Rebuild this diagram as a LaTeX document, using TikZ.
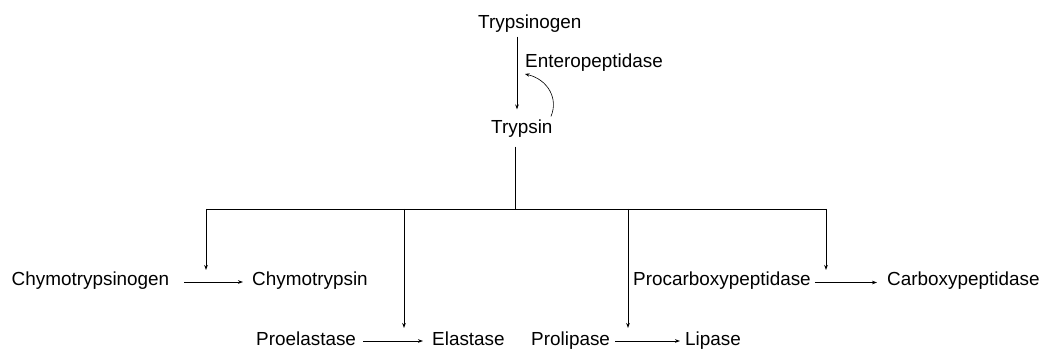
\documentclass[tikz,border=0pt]{standalone}
\usepackage{fontspec}
\setmainfont{Liberation Sans}
\usetikzlibrary{arrows.meta,calc}
\begin{document}
\begin{tikzpicture}[x={(1pt,0)},y={(0,-1pt)},
  lbl/.style={anchor=base west,inner sep=0pt,font=\fontsize{18.9}{22}\selectfont},
  conn/.style={line width=0.9pt,black},
  arr/.style={conn,-{Stealth[length=5pt,width=3.6pt]}},
  thin/.style={line width=0.6pt,black,-{Stealth[length=4.5pt,width=3.4pt]}}]
\useasboundingbox (0,0) rectangle (1045,350);
% nodes
\node[lbl] (tg) at (478,28.3) {Trypsinogen};
\node[lbl] (ep) at (525,67.7) {Enteropeptidase};
\node[lbl] (ts) at (491,133.3) {Trypsin};
\node[lbl] (c1) at (11.5,285) {Chymotrypsinogen};
\node[lbl] (c2) at (252,285) {Chymotrypsin};
\node[lbl] (e1) at (256,345) {Proelastase};
\node[lbl] (e2) at (432,345) {Elastase};
\node[lbl] (l1) at (531,345) {Prolipase};
\node[lbl] (l2) at (685,345) {Lipase};
\node[lbl] (p1) at (633,285) {Procarboxypeptidase};
\node[lbl] (p2) at (887,285) {Carboxypeptidase};
% branch coordinates
\coordinate (tx) at (517,0);
\coordinate (hub) at (515,209);
\coordinate (b1) at (206,209);
\coordinate (b2) at (404,209);
\coordinate (b3) at (628,209);
\coordinate (b4) at (826,209);
% activation of trypsinogen
\draw[arr] ([yshift=-8.4pt]tg.base -| tx) -- ([yshift=10pt]ts.north -| tx);
\draw[thin] ([xshift=-1.7pt,yshift=3pt]ts.north east) .. controls ($(ts.north east)+(6,-21)$) and ($(ts.north east)+(-5,-40)$) .. ([yshift=-6.3pt]ep.base west);
% trypsin tree
\draw[conn] ([yshift=-13.4pt]ts.base -| hub) -- (hub);
\draw[conn] (b1) -- (b4);
\draw[arr] (b1) -- ([yshift=15pt]b1 |- c1.base);
\draw[arr] (b2) -- ([yshift=17pt]b2 |- e1.base);
\draw[arr] (b3) -- ([yshift=17pt]b3 |- l1.base);
\draw[arr] (b4) -- ([yshift=15pt]b4 |- p1.base);
% conversions
\draw[arr] ([xshift=15pt,yshift=3pt]c1.base east) -- ([xshift=-9pt,yshift=3pt]c2.base west);
\draw[arr] ([xshift=7pt,yshift=4pt]e1.base east) -- ([xshift=-9pt,yshift=4pt]e2.base west);
\draw[arr] ([xshift=5pt,yshift=4pt]l1.base east) -- ([xshift=-5pt,yshift=4pt]l2.base west);
\draw[arr] ([xshift=4pt,yshift=2.5pt]p1.base east) -- ([xshift=-10pt,yshift=2.5pt]p2.base west);
\end{tikzpicture}
\end{document}
